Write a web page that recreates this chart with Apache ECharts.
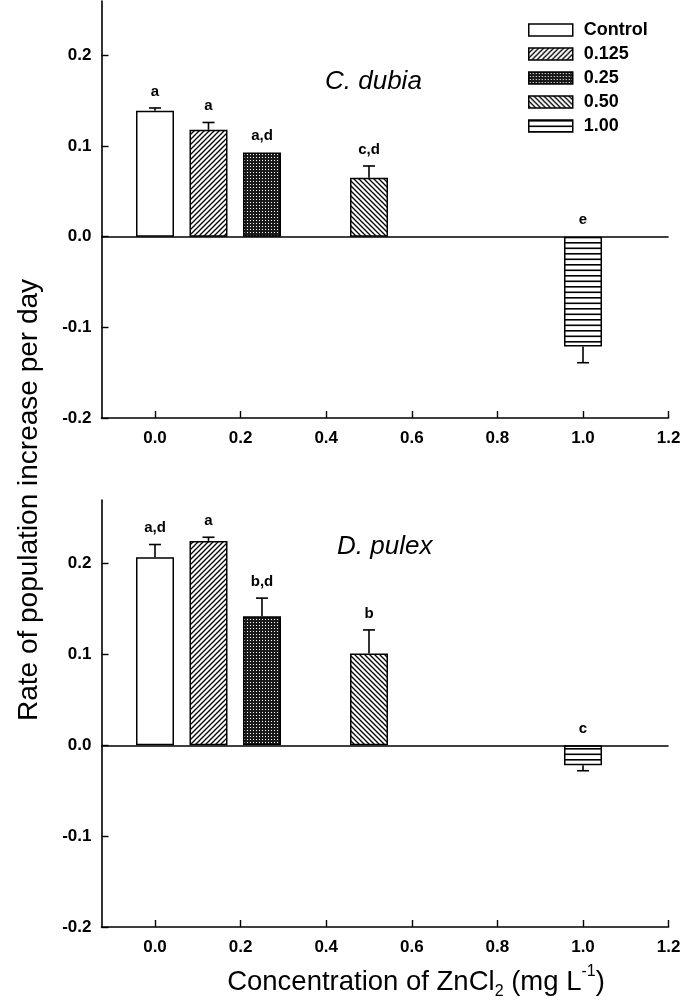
<!DOCTYPE html>
<html>
<head>
<meta charset="utf-8">
<script src="https://cdn.jsdelivr.net/npm/echarts@6/dist/echarts.min.js"></script>
<style>
html,body{margin:0;padding:0;background:#fff;}
#chart{width:696px;height:1005px;}
</style>
</head>
<body>
<div id="chart"></div>
<script>
// ---- data ----
const categories = ['Control', '0.125', '0.25', '0.50', '1.00'];
const concentrations = [0, 0.125, 0.25, 0.5, 1.0];
const dubiaRate = [0.139, 0.118, 0.093, 0.065, -0.121];
const dubiaErr = [0.003, 0.008, 0, 0.013, 0.018];
const dubiaLetters = ['a', 'a', 'a,d', 'c,d', 'e'];
const pulexRate = [0.207, 0.225, 0.142, 0.101, -0.022];
const pulexErr = [0.014, 0.004, 0.020, 0.026, 0.006];
const pulexLetters = ['a,d', 'a', 'b,d', 'b', 'c'];
const xTickValues = [0, 0.2, 0.4, 0.6, 0.8, 1.0, 1.2];
const yTickValues = [-0.2, -0.1, 0, 0.1, 0.2];
const speciesNames = ['C. dubia', 'D. pulex'];

const FONT = 'Liberation Sans, Arial, Helvetica, sans-serif';

// ---- fill patterns ----
function makeCanvas(w, h) {
  const c = document.createElement('canvas');
  c.width = w; c.height = h;
  return c;
}
function hatch(dir) {
  const s = 5;
  const c = makeCanvas(s, s);
  const g = c.getContext('2d');
  g.fillStyle = '#fff'; g.fillRect(0, 0, s, s);
  g.strokeStyle = '#000'; g.lineWidth = 1.3;
  g.beginPath();
  if (dir === 'up') {
    g.moveTo(0, s); g.lineTo(s, 0);
    g.moveTo(-1, 1); g.lineTo(1, -1);
    g.moveTo(s - 1, s + 1); g.lineTo(s + 1, s - 1);
  } else {
    g.moveTo(0, 0); g.lineTo(s, s);
    g.moveTo(-1, s - 1); g.lineTo(1, s + 1);
    g.moveTo(s - 1, -1); g.lineTo(s + 1, 1);
  }
  g.stroke();
  return { image: c, repeat: 'repeat' };
}
function dots() {
  const c = makeCanvas(3, 3);
  const g = c.getContext('2d');
  g.fillStyle = '#1a1a1a'; g.fillRect(0, 0, 3, 3);
  g.fillStyle = '#fff'; g.fillRect(1, 1, 1, 1);
  return { image: c, repeat: 'repeat' };
}
function horiz() {
  const c = makeCanvas(4, 11);
  const g = c.getContext('2d');
  g.fillStyle = '#fff'; g.fillRect(0, 0, 4, 11);
  g.fillStyle = '#000';
  g.fillRect(0, 0, 4, 1.6);
  g.fillRect(0, 5.5, 4, 1.6);
  return { image: c, repeat: 'repeat' };
}
const fills = ['#ffffff', hatch('up'), dots(), hatch('down'), horiz()];

// ---- series ----
function barSeries(gi, rates) {
  return categories.map((name, i) => {
    const s = {
      name: name,
      type: 'bar',
      xAxisIndex: gi, yAxisIndex: gi,
      barWidth: 38,
      barGap: '-100%',
      data: [[concentrations[i], rates[i]]],
      itemStyle: { color: fills[i], borderColor: '#000', borderWidth: 1.5 },
      silent: true,
      z: 3
    };
    if (i === categories.length - 1) {
      s.markLine = {
        silent: true, symbol: 'none', label: { show: false },
        lineStyle: { color: '#000', width: 1.6, type: 'solid' },
        data: [{ yAxis: 0 }]
      };
    }
    return s;
  });
}
function errSeries(gi, rates, errs, letters) {
  return {
    type: 'custom',
    name: 'err' + gi,
    xAxisIndex: gi, yAxisIndex: gi,
    silent: true,
    z: 5,
    encode: { x: 0, y: 1 },
    data: concentrations.map((x, i) => [x, rates[i], errs[i], i]),
    renderItem: function (params, api) {
      const x = api.value(0), v = api.value(1), e = api.value(2), i = api.value(3);
      const sign = v >= 0 ? 1 : -1;
      const base = api.coord([x, v]);
      const end = api.coord([x, v + sign * e]);
      const children = [];
      if (e > 0) {
        children.push({ type: 'line', shape: { x1: base[0], y1: base[1], x2: end[0], y2: end[1] }, style: { stroke: '#000', lineWidth: 1.6 } });
        children.push({ type: 'line', shape: { x1: end[0] - 6, y1: end[1], x2: end[0] + 6, y2: end[1] }, style: { stroke: '#000', lineWidth: 1.6 } });
      }
      const topVal = v >= 0 ? v + e : 0;
      const tp = api.coord([x, topVal]);
      children.push({
        type: 'text',
        style: { text: letters[i], x: tp[0], y: tp[1] - 9, align: 'center', verticalAlign: 'bottom', font: 'bold 15px ' + FONT, fill: '#000' }
      });
      return { type: 'group', children: children };
    }
  };
}

const axisLine = { show: true, onZero: false, lineStyle: { color: '#000', width: 1.6 } };
function xAxisDef(gi) {
  return {
    type: 'value', gridIndex: gi, min: -0.125, max: 1.2,
    axisLine: axisLine,
    axisTick: { show: true, inside: true, length: 7, customValues: xTickValues, lineStyle: { color: '#000', width: 1.4 } },
    axisLabel: { customValues: xTickValues, margin: 12, color: '#000', fontSize: 17, fontWeight: 'bold', fontFamily: FONT, formatter: v => v.toFixed(1) },
    splitLine: { show: false }
  };
}
function yAxisDef(gi, max) {
  return {
    type: 'value', gridIndex: gi, min: -0.2, max: max,
    axisLine: axisLine,
    axisTick: { show: true, inside: true, length: 7, customValues: yTickValues, lineStyle: { color: '#000', width: 1.4 } },
    axisLabel: { customValues: yTickValues, margin: 10, color: '#000', fontSize: 17, fontWeight: 'bold', fontFamily: FONT, formatter: v => v.toFixed(1) },
    splitLine: { show: false }
  };
}

const chart = echarts.init(document.getElementById('chart'), null, { renderer: 'canvas' });
chart.setOption({
  backgroundColor: '#fff',
  animation: false,
  textStyle: { fontFamily: FONT },
  grid: [
    { left: 101.5, right: 27.4, top: 1, height: 417 },
    { left: 101.5, right: 27.4, top: 500, height: 427 }
  ],
  xAxis: [xAxisDef(0), xAxisDef(1)],
  yAxis: [yAxisDef(0, 0.26), yAxisDef(1, 0.27)],
  legend: {
    data: categories,
    orient: 'vertical',
    left: 523, top: 16,
    padding: 5,
    icon: 'rect',
    itemWidth: 44, itemHeight: 12, itemGap: 6,
    itemStyle: { borderColor: '#000', borderWidth: 1.5 },
    textStyle: { color: '#000', fontSize: 18, fontWeight: 'bold', fontFamily: FONT, padding: [0, 0, 0, 6] },
    selectedMode: false
  },
  graphic: [
    { type: 'text', left: 325, top: 69, style: { text: speciesNames[0], font: 'italic 26px ' + FONT, fill: '#000' } },
    { type: 'text', left: 337, top: 534, style: { text: speciesNames[1], font: 'italic 26px ' + FONT, fill: '#000' } },
    { type: 'text', x: 29, y: 500, rotation: Math.PI / 2,
      style: { text: 'Rate of population increase per day', font: '28px ' + FONT, fill: '#000', align: 'center', verticalAlign: 'middle' } },
    { type: 'text', x: 416, y: 982,
      style: {
        text: '{n|Concentration of ZnCl}{sub|2}{n| (mg L}{sup|-1}{n|)}',
        align: 'center', verticalAlign: 'middle', fill: '#000',
        rich: {
          n: { fontSize: 27.5, fontFamily: FONT, lineHeight: 36, fill: '#000' },
          sub: { fontSize: 16, fontFamily: FONT, lineHeight: 36, verticalAlign: 'bottom', fill: '#000' },
          sup: { fontSize: 16, fontFamily: FONT, lineHeight: 36, verticalAlign: 'top', fill: '#000' }
        }
      } }
  ],
  series: [].concat(
    barSeries(0, dubiaRate),
    barSeries(1, pulexRate),
    [errSeries(0, dubiaRate, dubiaErr, dubiaLetters), errSeries(1, pulexRate, pulexErr, pulexLetters)]
  )
});
</script>
</body>
</html>
